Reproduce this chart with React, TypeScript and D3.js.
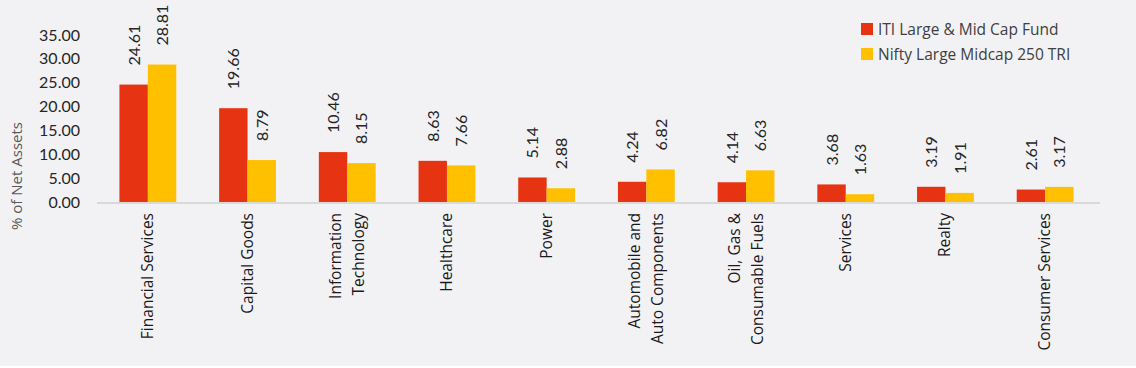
import React, { useRef, useEffect } from "react";
import * as d3 from "d3";

const categories = [
  ["Financial Services"],
  ["Capital Goods"],
  ["Information", "Technology"],
  ["Healthcare"],
  ["Power"],
  ["Automobile and", "Auto Components"],
  ["Oil, Gas &", "Consumable Fuels"],
  ["Services"],
  ["Realty"],
  ["Consumer Services"],
];
const fundValues = [24.61, 19.66, 10.46, 8.63, 5.14, 4.24, 4.14, 3.68, 3.19, 2.61];
const indexValues = [28.81, 8.79, 8.15, 7.66, 2.88, 6.82, 6.63, 1.63, 1.91, 3.17];
const seriesNames = ["ITI Large & Mid Cap Fund", "Nifty Large Midcap 250 TRI"];
const colors = ["#e63312", "#ffc000"];
const yTicks = [0, 5, 10, 15, 20, 25, 30, 35];

const W = 1136;
const H = 368;
const numFont = "Lato, 'Open Sans', sans-serif";
const labelFont = "'Open Sans', 'Noto Sans', sans-serif";

const App = () => {
  const svgRef = useRef(null);

  useEffect(() => {
    document.body.style.margin = "0";
    const svg = d3.select(svgRef.current);
    svg.selectAll("*").remove();

    svg.append("rect").attr("width", W).attr("height", H - 2).attr("fill", "#f2f2f4");

    const names = categories.map(c => c.join(" "));
    const x = d3.scaleBand().domain(names).range([98, 1095]).paddingInner(0.43).paddingOuter(0.215);
    const x1 = d3.scaleBand().domain(["0", "1"]).range([0, x.bandwidth()]);
    const y = d3.scaleLinear().domain([0, 35]).range([202, 35]);

    // y axis labels
    const yAxis = d3.axisLeft(y).tickValues(yTicks).tickFormat(d3.format(".2f")).tickSize(0).tickPadding(0);
    const ga = svg.append("g").attr("transform", "translate(80,0)").call(yAxis);
    ga.select(".domain").remove();
    ga.selectAll("text")
      .attr("font-family", numFont)
      .attr("font-size", 16)
      .attr("fill", "#262626");

    svg.append("text")
      .attr("transform", "translate(22,176) rotate(-90)")
      .attr("text-anchor", "middle")
      .attr("font-family", labelFont)
      .attr("font-size", 15)
      .attr("fill", "#595959")
      .text("% of Net Assets");

    const series = [fundValues, indexValues];
    series.forEach((vals, s) => {
      svg.append("g")
        .selectAll("rect")
        .data(vals)
        .join("rect")
        .attr("x", (d, i) => x(names[i]) + x1(String(s)))
        .attr("y", d => y(d))
        .attr("width", x1.bandwidth())
        .attr("height", d => y(0) - y(d))
        .attr("fill", colors[s]);

      svg.append("g")
        .selectAll("text")
        .data(vals)
        .join("text")
        .attr("transform", (d, i) =>
          `translate(${x(names[i]) + x1(String(s)) + x1.bandwidth() / 2 + 6},${y(d) - 19}) rotate(-90)`)
        .attr("font-family", numFont)
        .attr("font-size", 16)
        .attr("fill", "#262626")
        .text(d => d.toFixed(2));
    });

    // x axis line
    svg.append("line")
      .attr("x1", 97).attr("x2", 1100)
      .attr("y1", 203).attr("y2", 203)
      .attr("stroke", "#d9d9d9").attr("stroke-width", 2);

    // category labels
    const gl = svg.append("g");
    categories.forEach((lines, i) => {
      const cx = x(names[i]) + x.bandwidth() / 2;
      lines.forEach((ln, j) => {
        const off = (j - (lines.length - 1) / 2) * 23;
        gl.append("text")
          .attr("transform", `translate(${cx + off + 5},213) rotate(-90)`)
          .attr("text-anchor", "end")
          .attr("font-family", labelFont)
          .attr("font-size", 15.5)
          .attr("fill", "#1a1a1a")
          .text(ln);
      });
    });

    // legend
    const lg = svg.append("g").attr("transform", "translate(861,23)");
    seriesNames.forEach((n, i) => {
      lg.append("rect").attr("x", 0).attr("y", i * 25).attr("width", 12).attr("height", 12).attr("fill", colors[i]);
      lg.append("text")
        .attr("x", 17).attr("y", i * 25 + 12)
        .attr("font-family", labelFont)
        .attr("font-size", 15.5)
        .attr("fill", "#404040")
        .text(n);
    });
  }, []);

  return <svg ref={svgRef} width={W} height={H} style={{ display: "block" }} />;
};

export default App;
